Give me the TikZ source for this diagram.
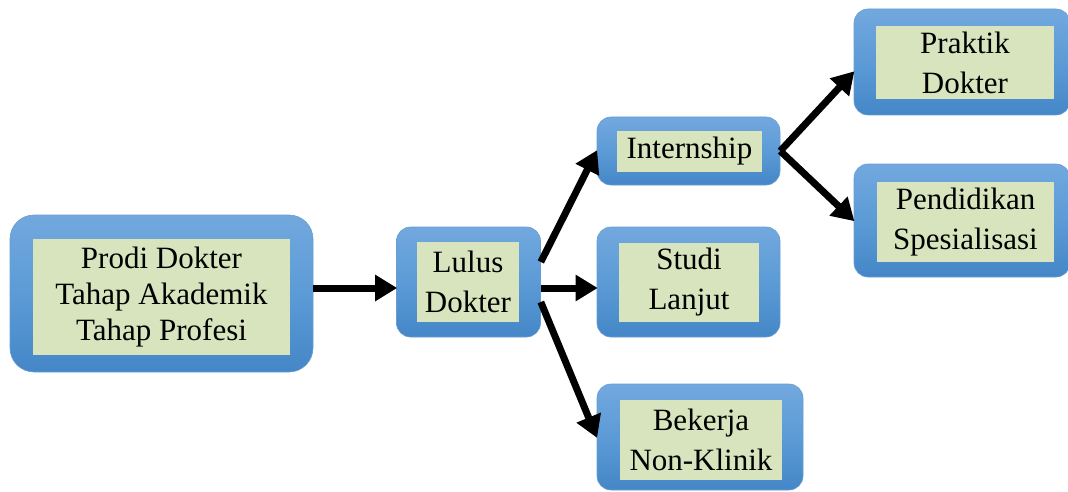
\documentclass[tikz,border=0pt]{standalone}
\usepackage{fontspec}
\setmainfont{Liberation Serif}
\usetikzlibrary{arrows.meta,shadings}
\definecolor{bluetop}{RGB}{114,168,222}
\definecolor{bluemid}{RGB}{92,155,214}
\definecolor{bluebot}{RGB}{68,134,199}
\definecolor{greenfill}{RGB}{215,228,189}
\tikzset{
  outerbox/.style={rectangle, rounded corners=#1, top color=bluetop, bottom color=bluebot, middle color=bluemid, draw=bluebot!80!white, line width=0.6pt, inner sep=0pt},
  outerbox/.default=14pt,
  innerbox/.style={rectangle, fill=greenfill, inner sep=0pt, align=center, text=black, font=\fontsize{31}{40}\selectfont},
  arr/.style={line width=7pt, -{Triangle[length=22pt,width=25pt]}, shorten >=-1pt}
}
\begin{document}
\begin{tikzpicture}[x=1pt,y=-1pt]
\useasboundingbox (0,0) rectangle (1068,492);
% outer boxes
\node[outerbox=24pt, minimum width=303pt, minimum height=157pt] (prodi) at (161.5,293.5) {};
\node[outerbox, minimum width=144pt, minimum height=110pt] (lulus) at (468.5,282) {};
\node[outerbox, minimum width=183pt, minimum height=68pt] (intern) at (688.5,151) {};
\node[outerbox, minimum width=183pt, minimum height=110pt] (studi) at (688.5,282) {};
\node[outerbox, minimum width=206pt, minimum height=106pt] (bekerja) at (700,437) {};
\node[outerbox, minimum width=216pt, minimum height=106pt] (praktik) at (962,62) {};
\node[outerbox, minimum width=216pt, minimum height=113pt] (pendidikan) at (962,220.5) {};
% inner boxes
\node[innerbox, minimum width=257pt, minimum height=116pt, font=\fontsize{31}{36}\selectfont] (prodiT) at (161.5,297) {Prodi Dokter\\Tahap Akademik\\Tahap Profesi};
\node[innerbox, minimum width=102pt, minimum height=80pt] (lulusT) at (468,282) {Lulus\\Dokter};
\node[innerbox, minimum width=145pt, minimum height=41pt] (internT) at (689.5,151.5) {Internship};
\node[innerbox, minimum width=140pt, minimum height=79pt] (studiT) at (689,282.5) {Studi\\Lanjut};
\node[innerbox, minimum width=162pt, minimum height=80pt] (bekerjaT) at (701,440) {Bekerja\\Non-Klinik};
\node[innerbox, minimum width=178pt, minimum height=73pt] (praktikT) at (965,62.5) {Praktik\\Dokter};
\node[innerbox, minimum width=177pt, minimum height=80pt] (pendidikanT) at (965.5,222) {Pendidikan\\Spesialisasi};
% arrows
\draw[arr] ([yshift=-6pt]lulus.west -| prodi.east) -- ([yshift=-6pt]lulus.west);
\draw[arr] ([yshift=20pt]lulus.east) -- (intern.west);
\draw[arr] ([yshift=-6pt]lulus.east) -- ([yshift=-6pt]studi.west);
\draw[arr] ([yshift=-20pt]lulus.east) -- (bekerja.west);
\draw[arr] (intern.east) -- ([yshift=-10pt]praktik.west);
\draw[arr] (intern.east) -- (pendidikan.west);
\end{tikzpicture}
\end{document}
